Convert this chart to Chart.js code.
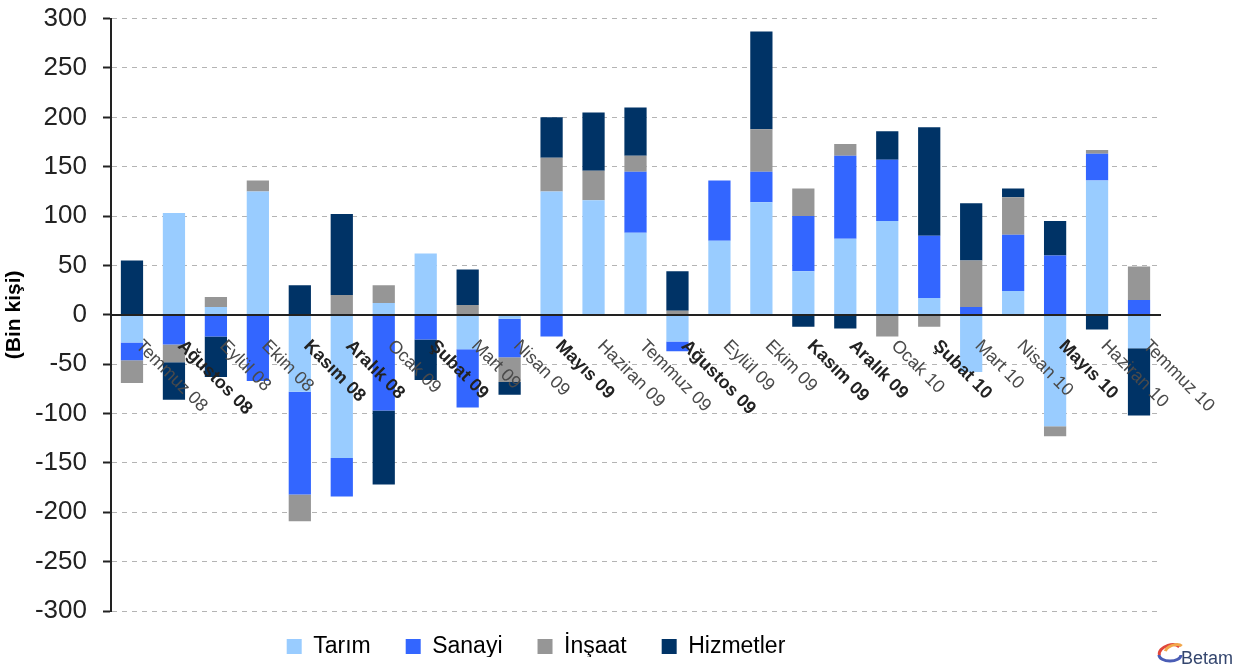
<!DOCTYPE html>
<html>
<head>
<meta charset="utf-8">
<script src="https://cdn.jsdelivr.net/npm/chart.js@4.4.1/dist/chart.umd.min.js"></script>
<style>
  html, body { margin: 0; padding: 0; background: #fff; }
</style>
</head>
<body>
<canvas id="myChart" width="1246" height="668"></canvas>
<script>
const categories = ["Temmuz 08", "Ağustos 08", "Eylül 08", "Ekim 08", "Kasım 08", "Aralık 08",
    "Ocak 09", "Şubat 09", "Mart 09", "Nisan 09", "Mayıs 09", "Haziran 09", "Temmuz 09",
    "Ağustos 09", "Eylül 09", "Ekim 09", "Kasım 09", "Aralık 09", "Ocak 10", "Şubat 10",
    "Mart 10", "Nisan 10", "Mayıs 10", "Haziran 10", "Temmuz 10"];

// bin kişi
const tarim     = [-28, 103, 8, 125, -78, -145, 12, 62, -35, -4, 125, 116, 83, -27, 75, 114, 44, 77, 95, 17, -58, 24, -113, 136, -34];
const sanayi    = [-18, -30, -22, -67, -104, -39, -97, -25, -59, -39, -22, 0, 62, -10, 61, 31, 56, 84, 62, 63, 8, 57, 60, 27, 15];
const insaat    = [-23, -18, 10, 11, -27, 20, 18, 0, 10, -25, 34, 30, 16, 4, 0, 43, 28, 12, -22, -12, 47, 38, -10, 4, 34];
const hizmetler = [55, -38, -41, 0, 30, 82, -75, -41, 36, -13, 41, 59, 49, 40, 0, 99, -12, -14, 29, 110, 58, 9, 35, -15, -68];

const yTicks = [-300, -250, -200, -150, -100, -50, 0, 50, 100, 150, 200, 250, 300];

const FONT = '"Liberation Sans", Arial, sans-serif';

// month names with Turkish letters came out bold in the original
const boldLabel = /[ığşŞ]/;

// x labels hang off the zero line, turned 45° clockwise
const monthLabels = {
    id: "monthLabels",
    afterDraw(chart) {
        const ctx = chart.ctx;
        const x = chart.scales.x, y = chart.scales.y;
        const y0 = y.getPixelForValue(0);
        categories.forEach((lab, i) => {
            const bold = boldLabel.test(lab);
            ctx.save();
            ctx.translate(x.getPixelForValue(i) + 13, y0 + 22);
            ctx.rotate(Math.PI / 4);
            ctx.font = (bold ? "bold " : "") + "18px " + FONT;
            ctx.fillStyle = bold ? "#222" : "#4a4a4a";
            ctx.textAlign = "left";
            ctx.textBaseline = "top";
            ctx.fillText(lab, 0, 0);
            ctx.restore();
        });

        // small Betam mark, bottom right
        ctx.save();
        ctx.lineWidth = 3;
        ctx.strokeStyle = "#e0463c";
        ctx.beginPath();
        ctx.ellipse(1170, 652, 11, 7, -0.3, Math.PI * 1.0, Math.PI * 1.9);
        ctx.stroke();
        ctx.strokeStyle = "#f2a64a";
        ctx.beginPath();
        ctx.ellipse(1174, 650, 9, 5, -0.3, Math.PI * 1.1, Math.PI * 1.9);
        ctx.stroke();
        ctx.strokeStyle = "#4a5db5";
        ctx.beginPath();
        ctx.ellipse(1170, 655, 11, 6, 0, 0, Math.PI);
        ctx.stroke();
        ctx.font = "18px " + FONT;
        ctx.fillStyle = "#34466e";
        ctx.textBaseline = "alphabetic";
        ctx.fillText("Betam", 1181, 664);
        ctx.restore();
    }
};

// the legend sits left of centre and a bit higher than its box
const legendShiftX = -44, legendShiftY = -11;
const legendNudge = {
    id: "legendNudge",
    afterLayout(chart) {
        const l = chart.legend;
        if (!l) return;
        l.left += legendShiftX; l.right += legendShiftX;
        l.top += legendShiftY; l.bottom += legendShiftY;
    }
};

const ctx = document.getElementById("myChart").getContext("2d");
new Chart(ctx, {
    type: "bar",
    data: {
        labels: categories,
        datasets: [
            { label: "Tarım", data: tarim, backgroundColor: "#99CCFF" },
            { label: "Sanayi", data: sanayi, backgroundColor: "#3366FF" },
            { label: "İnşaat", data: insaat, backgroundColor: "#969696" },
            { label: "Hizmetler", data: hizmetler, backgroundColor: "#003366" }
        ]
    },
    options: {
        responsive: false,
        devicePixelRatio: 1,
        animation: false,
        barPercentage: 0.53,
        categoryPercentage: 1,
        layout: { padding: { left: 0, top: 0, right: 86, bottom: 0 } },
        scales: {
            x: {
                stacked: true,
                position: { y: 0 },
                grid: { display: false },
                ticks: { display: false },
                border: { display: true, color: "#222", width: 2, z: 1 }
            },
            y: {
                stacked: true,
                min: -300,
                max: 300,
                afterBuildTicks: scale => { scale.ticks = yTicks.map(v => ({ value: v })); },
                afterFit: scale => { scale.width = 111; },
                grid: {
                    color: "#b4b4b4",
                    lineWidth: 1,
                    drawTicks: true,
                    tickLength: 8,
                    tickColor: "#222",
                    tickWidth: 2,
                    tickBorderDash: []
                },
                border: { display: true, color: "#222", width: 2, dash: [5, 5] },
                ticks: {
                    color: "#222",
                    padding: 16,
                    // small lineHeight keeps the top of the plot near the canvas edge
                    font: { family: FONT, size: 26, lineHeight: 0.2 },
                    callback: v => String(v)
                },
                title: {
                    display: true,
                    text: "(Bin kişi)",
                    color: "#000",
                    font: { family: FONT, size: 21, weight: "bold" },
                    padding: { top: 2, bottom: 2 }
                }
            }
        },
        plugins: {
            legend: {
                position: "bottom",
                maxHeight: 57,
                labels: {
                    boxWidth: 15,
                    boxHeight: 15,
                    padding: 35,
                    color: "#000",
                    font: { family: FONT, size: 23 }
                }
            },
            tooltip: { enabled: false }
        }
    },
    plugins: [legendNudge, monthLabels]
});
</script>
</body>
</html>
